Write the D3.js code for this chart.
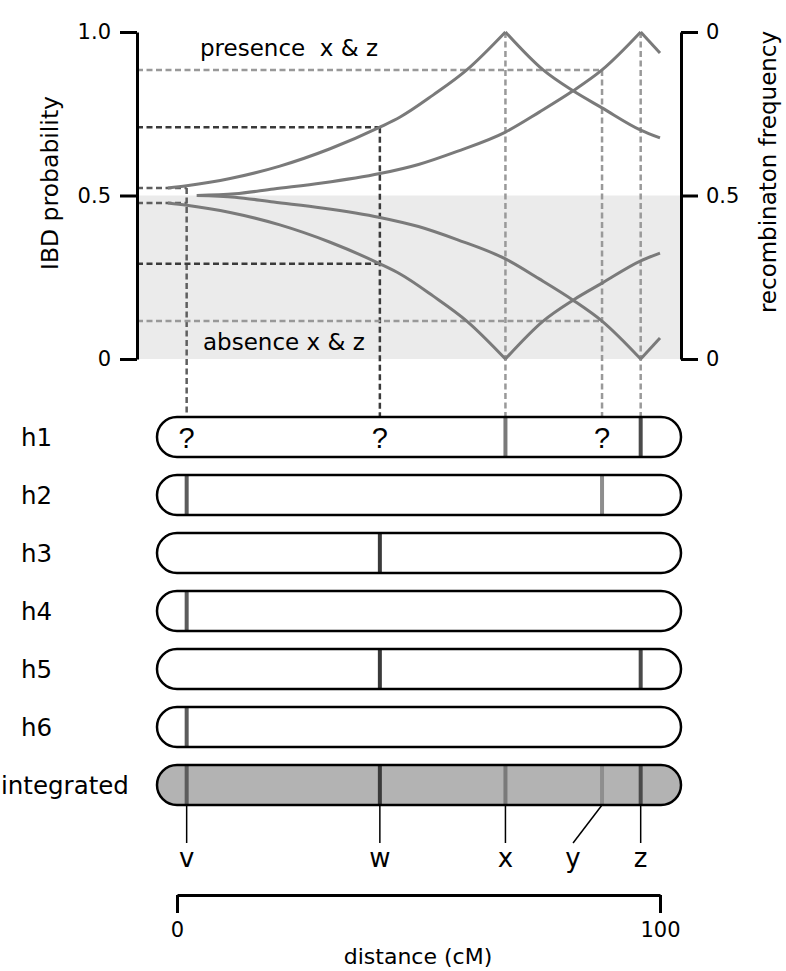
<!DOCTYPE html>
<html>
<head>
<meta charset="utf-8">
<script src="https://cdn.jsdelivr.net/npm/d3@7"></script>
<style>
  body { margin: 0; background: #fff; }
  svg { display: block; font-family: "DejaVu Sans", Verdana, sans-serif; }
</style>
</head>
<body>
<svg width="786" height="971"></svg>
<script>
// marker positions along the chromosome (cM)
const markers = [
  {name: "v", cM: 2,  color: "#5c5c5c"},
  {name: "w", cM: 42, color: "#3a3a3a"},
  {name: "x", cM: 68, color: "#7a7a7a"},
  {name: "y", cM: 88, color: "#8e8e8e"},
  {name: "z", cM: 96, color: "#4a4a4a"}
];

// haplotypes: which markers are seen, which are unknown
const haplotypes = ["h1", "h2", "h3", "h4", "h5", "h6", "integrated"];
const present = [["x", "z"], ["v", "y"], ["w"], ["v"], ["w", "z"], ["v"], ["v", "w", "x", "y", "z"]];
const unknown = [["v", "w", "y"], [], [], [], [], [], []];

// IBD probability curves [cM, prob]
const xUpLeft  = [[-1.9, 0.523], [2, 0.53], [11, 0.552], [21.3, 0.59], [31.7, 0.643], [42, 0.709], [46.2, 0.74], [53, 0.807], [60, 0.884], [68, 1.0]];
const xUpRight = [[68, 1.0], [75.8, 0.884], [82, 0.82], [88, 0.768], [96, 0.70], [100, 0.676]];
const xLoLeft  = [[-1.9, 0.477], [2, 0.47], [11, 0.448], [21.3, 0.41], [31.7, 0.357], [42, 0.291], [46.2, 0.26], [53, 0.193], [60, 0.116], [68, 0.0]];
const xLoRight = [[68, 0.0], [75.8, 0.116], [82, 0.18], [88, 0.232], [96, 0.30], [100, 0.324]];
const zUpLeft  = [[4.1, 0.5], [12, 0.505], [20, 0.52], [30, 0.538], [42, 0.567], [50, 0.595], [58, 0.635], [68, 0.694], [75, 0.755], [82, 0.82], [88, 0.884], [96, 1.0]];
const zUpRight = [[96, 1.0], [100, 0.936]];
const zLoLeft  = [[4.1, 0.5], [12, 0.495], [20, 0.48], [30, 0.462], [42, 0.433], [50, 0.405], [58, 0.365], [68, 0.306], [75, 0.245], [82, 0.18], [88, 0.116], [96, 0.0]];
const zLoRight = [[96, 0.0], [100, 0.064]];

// dashed read-outs at the unknown markers
const guides = [
  {marker: "v", hi: 0.523, lo: 0.477, color: "#5e5e5e"},
  {marker: "w", hi: 0.709, lo: 0.291, color: "#3a3a3a"},
  {marker: "y", hi: 0.884, lo: 0.116, color: "#999999"}
];
const peakMarkers = ["x", "z"];

const leftTicks = [0, 0.5, 1];
const leftTickLabels = ["0", "0.5", "1.0"];
const rightTickLabels = ["0", "0.5", "0"];
const distTicks = [0, 100];

const svg = d3.select("svg");
const leftX = 137, rightX = 681;
const barLeft = 157, barRight = 681, barTop = 417, barH = 40, barStep = 58;

const x = d3.scaleLinear().domain([0, 100]).range([177, 660]);
const yP = d3.scaleLinear().domain([0, 1]).range([359, 32]);
const pos = name => x(markers.find(m => m.name === name).cM);

// shaded absence band
svg.append("rect")
  .attr("x", leftX).attr("y", yP(0.5))
  .attr("width", rightX - leftX).attr("height", yP(0) - yP(0.5))
  .attr("fill", "#ebebeb");

// dashed guides
const dash = "6,3.5";
guides.forEach(g => {
  [g.hi, g.lo].forEach(v => {
    svg.append("line")
      .attr("x1", leftX).attr("x2", pos(g.marker))
      .attr("y1", yP(v)).attr("y2", yP(v))
      .attr("stroke", g.color).attr("stroke-width", 2.5)
      .attr("stroke-dasharray", dash);
  });
  svg.append("line")
    .attr("x1", pos(g.marker)).attr("x2", pos(g.marker))
    .attr("y1", yP(g.hi)).attr("y2", barTop)
    .attr("stroke", g.color).attr("stroke-width", 2.5)
    .attr("stroke-dasharray", dash);
});
peakMarkers.forEach(n => {
  svg.append("line")
    .attr("x1", pos(n)).attr("x2", pos(n))
    .attr("y1", yP(1)).attr("y2", barTop)
    .attr("stroke", "#999999").attr("stroke-width", 2.5)
    .attr("stroke-dasharray", dash);
});

// curves
const line = d3.line().x(d => x(d[0])).y(d => yP(d[1])).curve(d3.curveMonotoneX);
[xUpLeft, xUpRight, xLoLeft, xLoRight, zUpLeft, zUpRight, zLoLeft, zLoRight].forEach(c => {
  svg.append("path").datum(c)
    .attr("d", line)
    .attr("fill", "none")
    .attr("stroke", "#7a7a7a")
    .attr("stroke-width", 3);
});

// axes
const leftAxis = svg.append("g")
  .attr("transform", `translate(${leftX},0)`)
  .call(d3.axisLeft(yP).tickValues(leftTicks).tickSize(17).tickSizeOuter(0).tickPadding(9)
    .tickFormat((d, i) => leftTickLabels[i]));
const rightAxis = svg.append("g")
  .attr("transform", `translate(${rightX},0)`)
  .call(d3.axisRight(yP).tickValues(leftTicks).tickSize(17).tickSizeOuter(0).tickPadding(8)
    .tickFormat((d, i) => rightTickLabels[i]));
[leftAxis, rightAxis].forEach(a => {
  a.selectAll("path, line").attr("stroke", "#000").attr("stroke-width", 3);
  a.selectAll("text").attr("font-size", 21).attr("fill", "#000").attr("font-family", "DejaVu Sans");
});

svg.append("text")
  .attr("transform", "translate(50,183) rotate(-90)")
  .attr("text-anchor", "middle").attr("dominant-baseline", "central")
  .attr("font-size", 23.5).text("IBD probability");
svg.append("text")
  .attr("transform", "translate(768,172) rotate(-90)")
  .attr("text-anchor", "middle").attr("dominant-baseline", "central")
  .attr("font-size", 23).text("recombinaton frequency");

svg.append("text").attr("x", 200).attr("y", 56)
  .attr("font-size", 23).style("white-space", "pre").text("presence  x & z");
svg.append("text").attr("x", 203).attr("y", 350)
  .attr("font-size", 23).text("absence x & z");

// chromosome bars
haplotypes.forEach((h, i) => {
  const top = barTop + i * barStep;
  const last = i === haplotypes.length - 1;
  const g = svg.append("g");
  g.append("rect")
    .attr("x", barLeft).attr("y", top)
    .attr("width", barRight - barLeft).attr("height", barH)
    .attr("rx", barH / 2)
    .attr("fill", last ? "#b3b3b3" : "#fff");
  g.selectAll("line.band").data(markers.filter(m => present[i].includes(m.name)))
    .enter().append("line")
    .attr("x1", d => x(d.cM)).attr("x2", d => x(d.cM))
    .attr("y1", top + 1).attr("y2", top + barH - 1)
    .attr("stroke", d => d.color).attr("stroke-width", 4);
  g.append("rect")
    .attr("x", barLeft).attr("y", top)
    .attr("width", barRight - barLeft).attr("height", barH)
    .attr("rx", barH / 2)
    .attr("fill", "none").attr("stroke", "#000").attr("stroke-width", 2.5);
  g.selectAll("text.q").data(unknown[i])
    .enter().append("text")
    .attr("x", d => pos(d)).attr("y", top + barH / 2 + 1)
    .attr("text-anchor", "middle").attr("dominant-baseline", "central")
    .attr("font-size", 29).attr("font-family", "Liberation Sans, Arial").text("?");
  svg.append("text")
    .attr("x", last ? 1 : 21).attr("y", top + barH / 2)
    .attr("dominant-baseline", "central")
    .attr("font-size", 24.5).text(h);
});

// marker labels under the integrated bar
const intBottom = barTop + (haplotypes.length - 1) * barStep + barH;
const yLabelShift = -6;
markers.forEach(m => {
  const lx = m.name === "y" ? x(m.cM + yLabelShift) : x(m.cM);
  svg.append("line")
    .attr("x1", x(m.cM)).attr("x2", lx)
    .attr("y1", intBottom).attr("y2", intBottom + 38)
    .attr("stroke", "#000").attr("stroke-width", 1.5);
  svg.append("text")
    .attr("x", lx).attr("y", intBottom + 62)
    .attr("text-anchor", "middle").attr("font-size", 26).text(m.name);
});

// distance scale
const distAxis = svg.append("g")
  .attr("transform", "translate(0,895)")
  .call(d3.axisBottom(x).tickValues(distTicks).tickSize(18).tickSizeOuter(0).tickPadding(9));
distAxis.selectAll("path, line").attr("stroke", "#000").attr("stroke-width", 3);
distAxis.selectAll("text").attr("font-size", 21).attr("fill", "#000").attr("font-family", "DejaVu Sans");
svg.append("text").attr("x", 418).attr("y", 964)
  .attr("text-anchor", "middle").attr("font-size", 22).text("distance (cM)");
</script>
</body>
</html>
